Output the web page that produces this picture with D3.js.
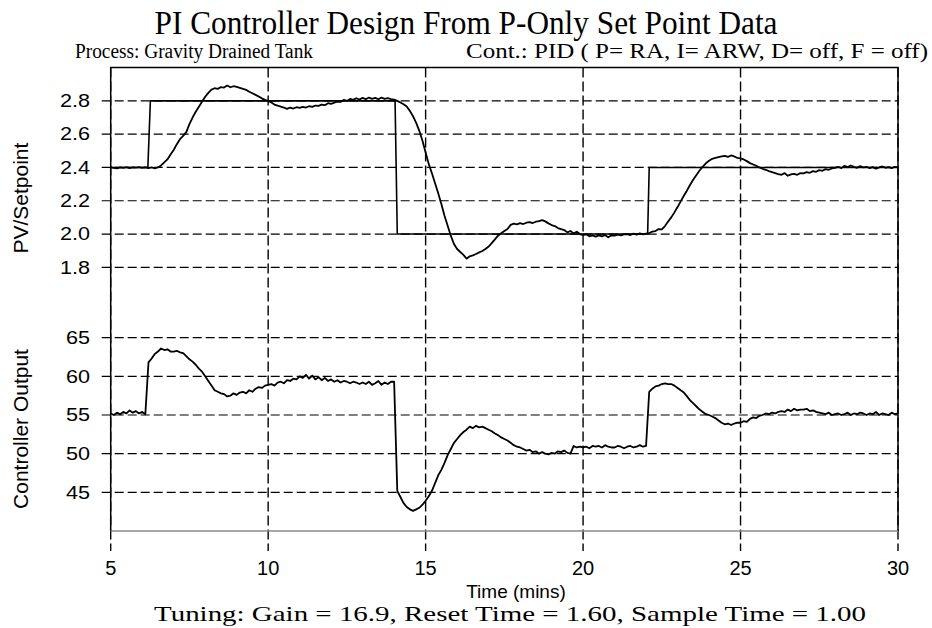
<!DOCTYPE html>
<html lang="en">
<head>
<meta charset="utf-8">
<script src="https://d3js.org/d3.v7.min.js"></script>
<style type="text/css">
  body {
    margin: 0;
    background: #fff;
  }
  .serif {
    font-family: "Liberation Serif", "Times New Roman", serif;
    fill: #000;
  }
  .sans {
    font-family: "Liberation Sans", Arial, sans-serif;
    fill: #000;
  }
</style>
</head>
<body>
<script type="text/javascript">

  // Time samples (mins), one every 0.1 min from 5 to 30
  var timeStart = 5;
  var timeStep = 0.1;

  // Process variable (tank level) (one row = 1 min)
  var pv = [
    2.400, 2.398, 2.395, 2.401, 2.397, 2.402, 2.396, 2.400, 2.399, 2.402,
    2.398, 2.401, 2.396, 2.400, 2.395, 2.400, 2.412, 2.430, 2.448, 2.478,
    2.505, 2.540, 2.570, 2.590, 2.612, 2.660, 2.700, 2.735, 2.765, 2.795,
    2.825, 2.848, 2.868, 2.876, 2.872, 2.883, 2.880, 2.892, 2.882, 2.888,
    2.884, 2.878, 2.872, 2.866, 2.855, 2.846, 2.836, 2.826, 2.815, 2.806,
    2.800, 2.790, 2.778, 2.772, 2.766, 2.760, 2.752, 2.760, 2.754, 2.762,
    2.758, 2.764, 2.760, 2.768, 2.764, 2.772, 2.770, 2.778, 2.774, 2.786,
    2.782, 2.790, 2.796, 2.794, 2.806, 2.800, 2.812, 2.806, 2.816, 2.808,
    2.818, 2.810, 2.820, 2.812, 2.818, 2.810, 2.820, 2.812, 2.816, 2.810,
    2.808, 2.800, 2.790, 2.780, 2.766, 2.740, 2.708, 2.668, 2.620, 2.560,
    2.490, 2.420, 2.365, 2.305, 2.245, 2.180, 2.110, 2.050, 1.990, 1.940,
    1.910, 1.892, 1.875, 1.852, 1.866, 1.872, 1.880, 1.890, 1.898, 1.910,
    1.925, 1.945, 1.968, 1.990, 2.005, 2.018, 2.030, 2.055, 2.062, 2.058,
    2.065, 2.060, 2.068, 2.072, 2.066, 2.074, 2.078, 2.084, 2.076, 2.064,
    2.054, 2.048, 2.036, 2.030, 2.024, 2.010, 2.018, 2.004, 2.014, 2.000,
    1.994, 1.998, 1.986, 1.992, 1.984, 1.992, 1.986, 1.994, 1.980, 1.992,
    1.990, 1.996, 1.992, 1.998, 2.000, 1.994, 2.002, 1.996, 2.004, 1.998,
    2.002, 2.006, 2.014, 2.018, 2.030, 2.028, 2.048, 2.075, 2.100, 2.130,
    2.162, 2.196, 2.230, 2.262, 2.296, 2.328, 2.355, 2.382, 2.405, 2.425,
    2.440, 2.452, 2.458, 2.462, 2.466, 2.470, 2.464, 2.472, 2.466, 2.458,
    2.455, 2.448, 2.438, 2.426, 2.418, 2.410, 2.400, 2.392, 2.386, 2.378,
    2.372, 2.366, 2.360, 2.356, 2.366, 2.350, 2.358, 2.362, 2.356, 2.366,
    2.364, 2.372, 2.368, 2.378, 2.374, 2.384, 2.380, 2.390, 2.386, 2.394,
    2.398, 2.404, 2.396, 2.410, 2.402, 2.412, 2.404, 2.398, 2.408, 2.400,
    2.404, 2.396, 2.402, 2.392, 2.400, 2.406, 2.398, 2.402, 2.396, 2.404,
    2.400
  ];

  // Controller output (%), same time samples
  var co = [
    55.2, 55.0, 55.3, 55.1, 55.4, 55.2, 55.6, 55.3, 55.5, 55.2,
    55.4, 55.1, 61.8, 62.3, 62.9, 63.2, 63.6, 63.4, 63.5, 63.2,
    63.2, 63.3, 63.1, 63.0, 62.6, 62.2, 61.9, 61.5, 61.0, 60.6,
    60.0, 59.4, 58.8, 58.2, 58.0, 57.8, 57.7, 57.4, 57.5, 57.8,
    57.6, 57.9, 58.0, 57.8, 58.2, 58.0, 58.4, 58.6, 58.5, 58.8,
    58.9, 59.0, 58.8, 59.2, 59.3, 59.1, 59.5, 59.4, 59.7, 59.6,
    60.0, 59.8, 60.2, 59.7, 60.1, 59.6, 59.9, 59.5, 59.8, 59.4,
    59.6, 59.3, 59.5, 59.2, 59.4, 59.3, 59.1, 59.3, 59.2, 59.0,
    59.2, 59.0, 59.3, 58.9, 59.1, 59.4, 58.9, 59.2, 59.0, 59.3,
    59.3, 45.2, 44.4, 43.6, 43.1, 42.8, 42.6, 42.8, 43.0, 43.4,
    43.9, 44.5, 45.2, 46.2, 47.2, 47.9, 48.8, 49.8, 50.6, 51.4,
    51.9, 52.4, 52.8, 53.1, 53.5, 53.3, 53.6, 53.4, 53.5, 53.3,
    53.1, 52.9, 52.6, 52.4, 52.1, 51.9, 51.7, 51.4, 51.1, 50.9,
    50.8, 50.6, 50.4, 50.5, 50.2, 50.3, 50.0, 50.2, 50.0, 49.9,
    50.1, 50.0, 50.3, 50.2, 50.4, 50.1, 50.0, 51.0, 50.8, 50.9,
    50.8, 50.9, 50.7, 51.0, 50.9, 51.0, 50.8, 51.1, 50.9, 50.8,
    50.8, 51.0, 50.9, 50.7, 50.9, 51.0, 50.8, 50.9, 51.1, 50.9,
    51.0, 58.0, 58.4, 58.7, 58.8, 59.0, 59.1, 59.0, 59.0, 58.8,
    58.5, 58.2, 57.9, 57.4, 56.9, 56.5, 56.1, 55.7, 55.4, 55.1,
    55.0, 54.8, 54.6, 54.3, 54.0, 53.8, 53.9, 53.7, 53.9, 54.0,
    54.0, 54.2, 54.1, 54.5, 54.7, 54.6, 54.9, 55.0, 55.2, 55.1,
    55.3, 55.2, 55.4, 55.5, 55.4, 55.7, 55.5, 55.8, 55.6, 55.7,
    55.7, 55.8, 55.5, 55.6, 55.4, 55.3, 55.2, 55.1, 55.3, 55.0,
    55.1, 55.2, 55.0, 55.1, 55.3, 55.0, 55.2, 55.1, 55.3, 55.2,
    55.0, 55.2, 55.1, 55.4, 55.0, 55.2, 55.1, 55.0, 55.3, 55.1,
    55.2
  ];

  // Set point steps
  var spTime  = [5, 6.18, 6.26, 14.03, 14.1, 22.05, 22.1, 30];
  var spValue = [2.4, 2.4, 2.8, 2.8, 2.0, 2.0, 2.4, 2.4];

  // Tick labels
  var xTicks   = [5, 10, 15, 20, 25, 30];
  var pvTicks  = [1.8, 2.0, 2.2, 2.4, 2.6, 2.8];
  var coTicks  = [45, 50, 55, 60, 65];

  var width = 932;
  var height = 628;

  var svg = d3.select("body")
    .append("svg")
    .attr("width", width)
    .attr("height", height);

  // Scales - one shared time axis, two stacked panels
  var x = d3.scaleLinear().domain([5, 30]).range([110.7, 898]);
  var yPV = d3.scaleLinear().domain([1.6, 3.0]).range([300.6, 67.6]);
  var yCO = d3.scaleLinear().domain([40, 70]).range([531, 299]);

  var plotTop = yPV(3.0), plotBottom = yCO(40);

  // Horizontal dashed grid (runs a little left of the axis like a tick)
  svg.append("g").selectAll("line")
    .data(pvTicks.map(yPV).concat(coTicks.map(yCO)))
    .enter().append("line")
    .attr("x1", x(5) - 9).attr("x2", x(30))
    .attr("y1", function(d) { return d; })
    .attr("y2", function(d) { return d; })
    .style("stroke", "#000")
    .style("stroke-width", 1.2)
    .style("stroke-dasharray", "9,4");

  // Vertical dashed grid, hanging below the axis as ticks
  svg.append("g").selectAll("line")
    .data(xTicks)
    .enter().append("line")
    .attr("x1", function(d) { return x(d); })
    .attr("x2", function(d) { return x(d); })
    .attr("y1", plotTop).attr("y2", plotBottom + 20)
    .style("stroke", "#000")
    .style("stroke-width", 1.4)
    .style("stroke-dasharray", "10,4");

  // Frame: black left/top/right, grey bottom
  svg.append("path")
    .attr("d", "M" + x(5) + "," + (plotBottom + 0.5) + "V" + plotTop + "H" + x(30) + "V" + plotBottom)
    .style("fill", "none")
    .style("stroke", "#000")
    .style("stroke-width", 1.5);
  svg.append("line")
    .attr("x1", x(5)).attr("x2", x(30))
    .attr("y1", plotBottom).attr("y2", plotBottom)
    .style("stroke", "#8a8a8a")
    .style("stroke-width", 1.5);

  // Curves
  var pvLine = d3.line()
    .x(function(d, i) { return x(timeStart + i * timeStep); })
    .y(function(d) { return yPV(d); });
  var coLine = d3.line()
    .x(function(d, i) { return x(timeStart + i * timeStep); })
    .y(function(d) { return yCO(d); });
  var spLine = d3.line()
    .x(function(d, i) { return x(spTime[i]); })
    .y(function(d) { return yPV(d); });

  svg.append("path").attr("d", spLine(spValue))
    .style("fill", "none").style("stroke", "#000").style("stroke-width", 1.6);
  svg.append("path").attr("d", pvLine(pv))
    .style("fill", "none").style("stroke", "#000").style("stroke-width", 1.8)
    .style("stroke-linejoin", "round");
  svg.append("path").attr("d", coLine(co))
    .style("fill", "none").style("stroke", "#000").style("stroke-width", 1.8)
    .style("stroke-linejoin", "round");

  // Y tick labels (drawn a bit wide, like the original)
  function yLabels(ticks, scale, fmt) {
    svg.append("g").selectAll("text")
      .data(ticks)
      .enter().append("text")
      .attr("class", "sans")
      .attr("text-anchor", "end")
      .attr("dy", "0.35em")
      .attr("transform", function(d) { return "translate(90," + scale(d) + ") scale(1.2,1)"; })
      .style("font-size", "18px")
      .text(fmt);
  }
  yLabels(pvTicks, yPV, d3.format(".1f"));
  yLabels(coTicks, yCO, d3.format("d"));

  // X tick labels
  svg.append("g").selectAll("text")
    .data(xTicks)
    .enter().append("text")
    .attr("class", "sans")
    .attr("text-anchor", "middle")
    .attr("x", function(d) { return x(d); })
    .attr("y", 575)
    .style("font-size", "20px")
    .text(function(d) { return d; });

  // Axis titles
  svg.append("text").attr("class", "sans")
    .attr("text-anchor", "middle")
    .attr("transform", "translate(28," + ((plotTop + 300.6) / 2 + 14) + ") rotate(-90)")
    .style("font-size", "21px")
    .text("PV/Setpoint");
  svg.append("text").attr("class", "sans")
    .attr("text-anchor", "middle")
    .attr("transform", "translate(28," + ((299 + plotBottom) / 2 + 14) + ") rotate(-90)")
    .style("font-size", "21px")
    .text("Controller Output");
  svg.append("text").attr("class", "sans")
    .attr("text-anchor", "middle")
    .attr("x", 516).attr("y", 598)
    .style("font-size", "19px")
    .text("Time (mins)");

  // Title and notes (serif text is drawn tall and fitted to the original widths)
  function serifText(str, cx, y, size, len) {
    svg.append("text").attr("class", "serif")
      .attr("text-anchor", "middle")
      .attr("x", cx).attr("y", y)
      .attr("textLength", len)
      .attr("lengthAdjust", "spacingAndGlyphs")
      .style("font-size", size + "px")
      .text(str);
  }
  serifText("PI Controller Design From P-Only Set Point Data", 466, 34, 34, 623);
  serifText("Process: Gravity Drained Tank", 194, 58, 20, 238);
  serifText("Cont.: PID ( P= RA, I= ARW, D= off, F = off)", 697, 58, 21, 462);
  serifText("Tuning: Gain = 16.9, Reset Time = 1.60, Sample Time = 1.00", 510, 621, 21, 712);
</script>
</body>
</html>
